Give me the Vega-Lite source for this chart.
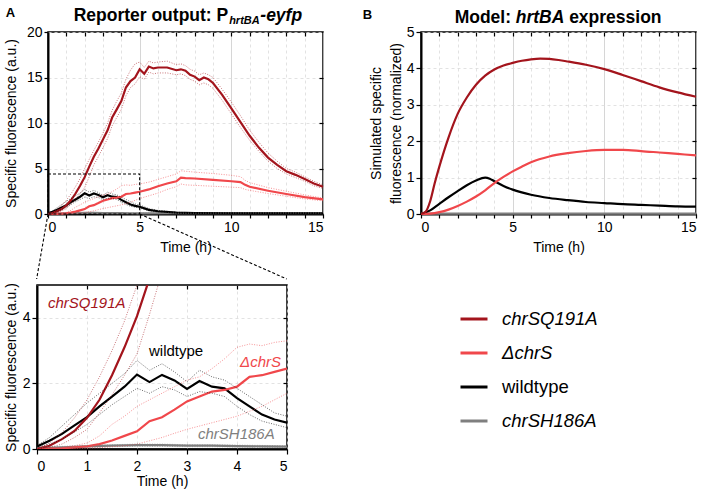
{
 "$schema": "https://vega.github.io/schema/vega-lite/v6.json",
 "background": "white",
 "padding": {"left": 2, "top": 6, "right": 5, "bottom": 5},
 "config": {
  "font": "Liberation Sans",
  "view": {"stroke": "black", "strokeWidth": 1.5},
  "axis": {"labelFont": "Liberation Sans", "labelFontSize": 14, "labelColor": "black", "titleFont": "Liberation Sans", "titleFontSize": 14, "titleFontWeight": "normal", "titleColor": "black", "tickColor": "black", "domainColor": "black", "domainWidth": 2, "tickWidth": 1.2, "gridWidth": 0.8}
 },
 "datasets": {
  "exp": [
   {"s":"chrSH186A","t":0,"v":0.03,"lo":0.01,"hi":0.05},
   {"s":"chrSH186A","t":0.5,"v":0.05,"lo":0.03,"hi":0.08},
   {"s":"chrSH186A","t":1,"v":0.08,"lo":0.05,"hi":0.11},
   {"s":"chrSH186A","t":1.5,"v":0.1,"lo":0.07,"hi":0.13},
   {"s":"chrSH186A","t":2,"v":0.12,"lo":0.08,"hi":0.15},
   {"s":"chrSH186A","t":2.5,"v":0.12,"lo":0.08,"hi":0.15},
   {"s":"chrSH186A","t":3,"v":0.1,"lo":0.07,"hi":0.13},
   {"s":"chrSH186A","t":3.5,"v":0.1,"lo":0.07,"hi":0.13},
   {"s":"chrSH186A","t":4,"v":0.09,"lo":0.06,"hi":0.12},
   {"s":"chrSH186A","t":4.5,"v":0.08,"lo":0.05,"hi":0.11},
   {"s":"chrSH186A","t":5,"v":0.07,"lo":0.05,"hi":0.1},
   {"s":"chrSH186A","t":7,"v":0.08,"lo":0.05,"hi":0.11},
   {"s":"chrSH186A","t":10,"v":0.1,"lo":0.07,"hi":0.13},
   {"s":"chrSH186A","t":12,"v":0.1,"lo":0.07,"hi":0.13},
   {"s":"chrSH186A","t":15,"v":0.1,"lo":0.07,"hi":0.13},
   {"s":"wildtype","t":0,"v":0.08,"lo":0.05,"hi":0.1},
   {"s":"wildtype","t":0.25,"v":0.25,"lo":0.15,"hi":0.35},
   {"s":"wildtype","t":0.5,"v":0.46,"lo":0.3,"hi":0.7},
   {"s":"wildtype","t":0.75,"v":0.72,"lo":0.52,"hi":1.05},
   {"s":"wildtype","t":1,"v":0.97,"lo":0.75,"hi":1.4},
   {"s":"wildtype","t":1.25,"v":1.3,"lo":1.05,"hi":1.7},
   {"s":"wildtype","t":1.5,"v":1.6,"lo":1.35,"hi":2.0},
   {"s":"wildtype","t":1.75,"v":1.9,"lo":1.6,"hi":2.3},
   {"s":"wildtype","t":2,"v":2.27,"lo":1.85,"hi":2.7},
   {"s":"wildtype","t":2.25,"v":2.04,"lo":1.7,"hi":2.4},
   {"s":"wildtype","t":2.5,"v":2.26,"lo":1.9,"hi":2.6},
   {"s":"wildtype","t":2.75,"v":2.09,"lo":1.8,"hi":2.35},
   {"s":"wildtype","t":3,"v":1.83,"lo":1.6,"hi":2.05},
   {"s":"wildtype","t":3.25,"v":2.07,"lo":1.75,"hi":2.4},
   {"s":"wildtype","t":3.5,"v":1.9,"lo":1.7,"hi":2.2},
   {"s":"wildtype","t":3.75,"v":1.85,"lo":1.6,"hi":2.1},
   {"s":"wildtype","t":4,"v":1.55,"lo":1.3,"hi":1.85},
   {"s":"wildtype","t":4.25,"v":1.3,"lo":1.05,"hi":1.6},
   {"s":"wildtype","t":4.5,"v":1.05,"lo":0.85,"hi":1.35},
   {"s":"wildtype","t":4.75,"v":0.9,"lo":0.75,"hi":1.1},
   {"s":"wildtype","t":5,"v":0.8,"lo":0.65,"hi":1.0},
   {"s":"wildtype","t":5.5,"v":0.45,"lo":0.35,"hi":0.6},
   {"s":"wildtype","t":6,"v":0.3,"lo":0.22,"hi":0.4},
   {"s":"wildtype","t":7,"v":0.15,"lo":0.1,"hi":0.2},
   {"s":"wildtype","t":8,"v":0.1,"lo":0.07,"hi":0.13},
   {"s":"wildtype","t":10,"v":0.08,"lo":0.06,"hi":0.1},
   {"s":"wildtype","t":12,"v":0.07,"lo":0.05,"hi":0.09},
   {"s":"wildtype","t":15,"v":0.06,"lo":0.05,"hi":0.08},
   {"s":"ΔchrS","t":0,"v":0,"lo":0,"hi":0},
   {"s":"ΔchrS","t":0.25,"v":0.01,"lo":0,"hi":0.02},
   {"s":"ΔchrS","t":0.5,"v":0.02,"lo":0,"hi":0.05},
   {"s":"ΔchrS","t":0.75,"v":0.05,"lo":0.01,"hi":0.1},
   {"s":"ΔchrS","t":1,"v":0.08,"lo":0.02,"hi":0.18},
   {"s":"ΔchrS","t":1.25,"v":0.15,"lo":0.04,"hi":0.4},
   {"s":"ΔchrS","t":1.5,"v":0.26,"lo":0.07,"hi":0.75},
   {"s":"ΔchrS","t":1.75,"v":0.4,"lo":0.1,"hi":1.0},
   {"s":"ΔchrS","t":2,"v":0.54,"lo":0.15,"hi":1.3},
   {"s":"ΔchrS","t":2.25,"v":0.85,"lo":0.25,"hi":1.5},
   {"s":"ΔchrS","t":2.5,"v":0.97,"lo":0.35,"hi":1.7},
   {"s":"ΔchrS","t":2.75,"v":1.2,"lo":0.48,"hi":1.9},
   {"s":"ΔchrS","t":3,"v":1.45,"lo":0.6,"hi":2.1},
   {"s":"ΔchrS","t":3.25,"v":1.6,"lo":0.7,"hi":2.2},
   {"s":"ΔchrS","t":3.5,"v":1.75,"lo":0.8,"hi":2.45},
   {"s":"ΔchrS","t":3.75,"v":1.8,"lo":0.9,"hi":2.75},
   {"s":"ΔchrS","t":4,"v":1.9,"lo":1.0,"hi":3.1},
   {"s":"ΔchrS","t":4.25,"v":2.2,"lo":1.15,"hi":3.2},
   {"s":"ΔchrS","t":4.5,"v":2.25,"lo":1.3,"hi":3.15},
   {"s":"ΔchrS","t":4.75,"v":2.35,"lo":1.5,"hi":3.25},
   {"s":"ΔchrS","t":5,"v":2.45,"lo":1.7,"hi":3.3},
   {"s":"ΔchrS","t":5.5,"v":2.7,"lo":2.0,"hi":3.5},
   {"s":"ΔchrS","t":6,"v":3.05,"lo":2.3,"hi":3.8},
   {"s":"ΔchrS","t":6.5,"v":3.35,"lo":2.7,"hi":4.1},
   {"s":"ΔchrS","t":7,"v":3.6,"lo":3.0,"hi":4.4},
   {"s":"ΔchrS","t":7.25,"v":4.0,"lo":3.3,"hi":4.75},
   {"s":"ΔchrS","t":7.5,"v":3.95,"lo":3.2,"hi":4.7},
   {"s":"ΔchrS","t":8,"v":3.9,"lo":3.15,"hi":4.6},
   {"s":"ΔchrS","t":9,"v":3.75,"lo":3.05,"hi":4.45},
   {"s":"ΔchrS","t":10,"v":3.6,"lo":2.95,"hi":4.25},
   {"s":"ΔchrS","t":10.5,"v":3.5,"lo":2.9,"hi":4.1},
   {"s":"ΔchrS","t":10.75,"v":3.2,"lo":2.7,"hi":3.7},
   {"s":"ΔchrS","t":11,"v":3.0,"lo":2.6,"hi":3.45},
   {"s":"ΔchrS","t":12,"v":2.55,"lo":2.25,"hi":2.9},
   {"s":"ΔchrS","t":13,"v":2.2,"lo":1.95,"hi":2.5},
   {"s":"ΔchrS","t":14,"v":1.85,"lo":1.65,"hi":2.1},
   {"s":"ΔchrS","t":15,"v":1.6,"lo":1.45,"hi":1.75},
   {"s":"chrSQ191A","t":0,"v":0,"lo":0,"hi":0},
   {"s":"chrSQ191A","t":0.25,"v":0.1,"lo":0.04,"hi":0.18},
   {"s":"chrSQ191A","t":0.5,"v":0.3,"lo":0.15,"hi":0.5},
   {"s":"chrSQ191A","t":0.75,"v":0.55,"lo":0.35,"hi":0.95},
   {"s":"chrSQ191A","t":1,"v":0.95,"lo":0.6,"hi":1.5},
   {"s":"chrSQ191A","t":1.25,"v":1.5,"lo":1.1,"hi":2.2},
   {"s":"chrSQ191A","t":1.5,"v":2.25,"lo":1.65,"hi":3.0},
   {"s":"chrSQ191A","t":1.75,"v":3.1,"lo":2.25,"hi":3.9},
   {"s":"chrSQ191A","t":2,"v":4.05,"lo":2.9,"hi":5.0},
   {"s":"chrSQ191A","t":2.25,"v":5.2,"lo":4.1,"hi":6.0},
   {"s":"chrSQ191A","t":2.5,"v":6.3,"lo":5.4,"hi":7.0},
   {"s":"chrSQ191A","t":2.75,"v":7.2,"lo":6.3,"hi":7.9},
   {"s":"chrSQ191A","t":3,"v":8.2,"lo":7.3,"hi":8.9},
   {"s":"chrSQ191A","t":3.25,"v":9.2,"lo":8.3,"hi":10.0},
   {"s":"chrSQ191A","t":3.5,"v":10.6,"lo":9.7,"hi":11.4},
   {"s":"chrSQ191A","t":3.75,"v":11.5,"lo":10.6,"hi":12.4},
   {"s":"chrSQ191A","t":4,"v":12.4,"lo":11.5,"hi":13.3},
   {"s":"chrSQ191A","t":4.25,"v":13.9,"lo":13.0,"hi":14.8},
   {"s":"chrSQ191A","t":4.5,"v":14.6,"lo":13.9,"hi":15.8},
   {"s":"chrSQ191A","t":4.75,"v":15.0,"lo":14.3,"hi":16.5},
   {"s":"chrSQ191A","t":5,"v":15.9,"lo":15.1,"hi":16.7},
   {"s":"chrSQ191A","t":5.25,"v":15.4,"lo":14.8,"hi":16.1},
   {"s":"chrSQ191A","t":5.5,"v":16.2,"lo":15.6,"hi":16.8},
   {"s":"chrSQ191A","t":5.75,"v":16.0,"lo":15.4,"hi":16.6},
   {"s":"chrSQ191A","t":6,"v":16.1,"lo":15.5,"hi":16.7},
   {"s":"chrSQ191A","t":6.5,"v":16.1,"lo":15.5,"hi":16.8},
   {"s":"chrSQ191A","t":7,"v":15.8,"lo":15.3,"hi":16.4},
   {"s":"chrSQ191A","t":7.25,"v":15.9,"lo":15.4,"hi":16.5},
   {"s":"chrSQ191A","t":7.5,"v":15.75,"lo":15.2,"hi":16.3},
   {"s":"chrSQ191A","t":7.75,"v":15.3,"lo":14.8,"hi":15.9},
   {"s":"chrSQ191A","t":8,"v":15.1,"lo":14.6,"hi":15.7},
   {"s":"chrSQ191A","t":8.25,"v":14.7,"lo":14.2,"hi":15.3},
   {"s":"chrSQ191A","t":8.5,"v":15.0,"lo":14.4,"hi":15.5},
   {"s":"chrSQ191A","t":8.75,"v":14.8,"lo":14.2,"hi":15.3},
   {"s":"chrSQ191A","t":9,"v":14.4,"lo":13.8,"hi":15.0},
   {"s":"chrSQ191A","t":9.5,"v":13.1,"lo":12.5,"hi":13.7},
   {"s":"chrSQ191A","t":10,"v":11.6,"lo":11.0,"hi":12.3},
   {"s":"chrSQ191A","t":10.5,"v":10.1,"lo":9.5,"hi":10.8},
   {"s":"chrSQ191A","t":11,"v":8.6,"lo":8.1,"hi":9.2},
   {"s":"chrSQ191A","t":11.5,"v":7.3,"lo":6.9,"hi":7.9},
   {"s":"chrSQ191A","t":12,"v":6.2,"lo":5.8,"hi":6.7},
   {"s":"chrSQ191A","t":12.5,"v":5.4,"lo":5.0,"hi":5.8},
   {"s":"chrSQ191A","t":13,"v":4.7,"lo":4.4,"hi":5.0},
   {"s":"chrSQ191A","t":13.5,"v":4.3,"lo":4.0,"hi":4.6},
   {"s":"chrSQ191A","t":14,"v":3.85,"lo":3.6,"hi":4.1},
   {"s":"chrSQ191A","t":14.5,"v":3.35,"lo":3.1,"hi":3.6},
   {"s":"chrSQ191A","t":15,"v":3.0,"lo":2.8,"hi":3.2}
  ],
  "model": [
   {"s":"chrSH186A","t":0,"v":0.01},{"s":"chrSH186A","t":15,"v":0.01},
   {"s":"wildtype","t":0,"v":0},{"s":"wildtype","t":0.5,"v":0.1},{"s":"wildtype","t":1,"v":0.28},{"s":"wildtype","t":1.5,"v":0.46},{"s":"wildtype","t":2,"v":0.63},{"s":"wildtype","t":2.5,"v":0.79},{"s":"wildtype","t":3,"v":0.92},{"s":"wildtype","t":3.5,"v":1.0},{"s":"wildtype","t":3.75,"v":0.97},{"s":"wildtype","t":4,"v":0.9},{"s":"wildtype","t":4.5,"v":0.77},{"s":"wildtype","t":5,"v":0.67},{"s":"wildtype","t":6,"v":0.53},{"s":"wildtype","t":7,"v":0.44},{"s":"wildtype","t":8,"v":0.38},{"s":"wildtype","t":9,"v":0.33},{"s":"wildtype","t":10,"v":0.3},{"s":"wildtype","t":11,"v":0.27},{"s":"wildtype","t":12,"v":0.25},{"s":"wildtype","t":13,"v":0.23},{"s":"wildtype","t":14,"v":0.21},{"s":"wildtype","t":15,"v":0.2},
   {"s":"ΔchrS","t":0,"v":0},{"s":"ΔchrS","t":0.5,"v":0.01},{"s":"ΔchrS","t":1,"v":0.05},{"s":"ΔchrS","t":1.5,"v":0.12},{"s":"ΔchrS","t":2,"v":0.22},{"s":"ΔchrS","t":2.5,"v":0.34},{"s":"ΔchrS","t":3,"v":0.48},{"s":"ΔchrS","t":3.5,"v":0.65},{"s":"ΔchrS","t":4,"v":0.85},{"s":"ΔchrS","t":4.5,"v":1.02},{"s":"ΔchrS","t":5,"v":1.17},{"s":"ΔchrS","t":5.5,"v":1.3},{"s":"ΔchrS","t":6,"v":1.42},{"s":"ΔchrS","t":7,"v":1.58},{"s":"ΔchrS","t":8,"v":1.67},{"s":"ΔchrS","t":9,"v":1.73},{"s":"ΔchrS","t":10,"v":1.76},{"s":"ΔchrS","t":11,"v":1.76},{"s":"ΔchrS","t":12,"v":1.73},{"s":"ΔchrS","t":13,"v":1.69},{"s":"ΔchrS","t":14,"v":1.65},{"s":"ΔchrS","t":15,"v":1.61},
   {"s":"chrSQ191A","t":0,"v":0},{"s":"chrSQ191A","t":0.25,"v":0.06},{"s":"chrSQ191A","t":0.5,"v":0.35},{"s":"chrSQ191A","t":0.75,"v":0.85},{"s":"chrSQ191A","t":1,"v":1.3},{"s":"chrSQ191A","t":1.5,"v":2.1},{"s":"chrSQ191A","t":2,"v":2.75},{"s":"chrSQ191A","t":2.5,"v":3.2},{"s":"chrSQ191A","t":3,"v":3.55},{"s":"chrSQ191A","t":3.5,"v":3.8},{"s":"chrSQ191A","t":4,"v":3.97},{"s":"chrSQ191A","t":4.5,"v":4.08},{"s":"chrSQ191A","t":5,"v":4.15},{"s":"chrSQ191A","t":5.5,"v":4.21},{"s":"chrSQ191A","t":6,"v":4.25},{"s":"chrSQ191A","t":6.5,"v":4.27},{"s":"chrSQ191A","t":7,"v":4.26},{"s":"chrSQ191A","t":7.5,"v":4.23},{"s":"chrSQ191A","t":8,"v":4.19},{"s":"chrSQ191A","t":9,"v":4.1},{"s":"chrSQ191A","t":10,"v":3.98},{"s":"chrSQ191A","t":11,"v":3.82},{"s":"chrSQ191A","t":12,"v":3.65},{"s":"chrSQ191A","t":13,"v":3.48},{"s":"chrSQ191A","t":14,"v":3.34},{"s":"chrSQ191A","t":15,"v":3.22}
  ]
 },
 "spacing": 0,
 "vconcat": [
  {
   "spacing": 32,
   "hconcat": [
    {
     "spacing": 0,
     "hconcat": [
      {"width": 1, "height": 1, "view": {"stroke": null}, "data": {"values": [{}]}, "mark": {"type": "point", "opacity": 0, "size": 0}, "encoding": {}},
      {
       "width": 275, "height": 182,
       "data": {"name": "exp"},
       "resolve": {"axis": {"x": "independent", "y": "independent"}},
       "layer": [
        {"mark": {"type": "line", "strokeWidth": 2.2},
         "encoding": {
          "x": {"field": "t", "type": "quantitative", "scale": {"domain": [0, 15], "nice": false},
                "axis": {"orient": "bottom", "values": [0,1,2,3,4,5,6,7,8,9,10,11,12,13,14,15], "labelExpr": "datum.value % 5 === 0 ? datum.label : ''", "labelOverlap": false, "title": "Time (h)", "titleFontWeight": "normal", "grid": true, "gridDash": {"condition": {"test": "datum.value % 5 === 0", "value": []}, "value": [3,3]}, "gridColor": {"condition": {"test": "datum.value % 5 === 0", "value": "#cccccc"}, "value": "#dadada"}, "tickSize": 4, "labelPadding": 2, "titlePadding": 6}},
          "y": {"field": "v", "type": "quantitative", "scale": {"domain": [0, 20], "nice": false},
                "axis": {"orient": "left", "values": [0,5,10,15,20], "title": "Specific fluorescence (a.u.)", "titleFontWeight": "normal", "grid": true, "gridDash": [3,3], "gridColor": "#dadada", "tickSize": 4, "labelPadding": 2, "titlePadding": 8}},
          "color": {"field": "s", "type": "nominal",
                    "scale": {"domain": ["chrSQ191A","ΔchrS","wildtype","chrSH186A"], "range": ["#a3141c","#f0474b","#000000","#7f7f7f"]},
                    "legend": {"orient": "none", "legendX": 457, "legendY": 272, "title": null, "symbolType": "stroke", "symbolSize": 729, "symbolStrokeWidth": 3, "labelFontSize": 18.5, "labelOffset": 13, "rowPadding": 9, "padding": 0, "labelFont": "Liberation Sans", "labelColor": "black", "encode": {"labels": {"update": {"fontStyle": {"signal": "datum.label === 'wildtype' ? 'normal' : 'italic'"}}}}}}
         }},
        {"mark": {"type": "line", "strokeWidth": 0.9, "strokeDash": [1,1.5], "opacity": 0.65},
         "encoding": {
          "x": {"field": "t", "type": "quantitative", "scale": {"domain": [0, 15], "nice": false}, "axis": null},
          "y": {"field": "lo", "type": "quantitative", "scale": {"domain": [0, 20], "nice": false}, "axis": null},
          "color": {"field": "s", "type": "nominal", "legend": null}
         }},
        {"mark": {"type": "line", "strokeWidth": 0.9, "strokeDash": [1,1.5], "opacity": 0.65},
         "encoding": {
          "x": {"field": "t", "type": "quantitative", "scale": {"domain": [0, 15], "nice": false}, "axis": null},
          "y": {"field": "hi", "type": "quantitative", "scale": {"domain": [0, 20], "nice": false}, "axis": null},
          "color": {"field": "s", "type": "nominal", "legend": null}
         }},
        {"data": {"values": [{}]}, "mark": {"type": "point", "opacity": 0, "size": 0},
         "encoding": {
          "x": {"datum": 0, "type": "quantitative", "scale": {"domain": [0, 15], "nice": false}, "axis": {"orient": "top", "values": [1,2,3,4,5,6,7,8,9,10,11,12,13,14], "labels": false, "title": null, "grid": false, "domain": false, "tickSize": -4, "minExtent": 0, "maxExtent": 0}},
          "y": {"datum": 0, "type": "quantitative", "scale": {"domain": [0, 20], "nice": false}, "axis": {"orient": "right", "values": [5,10,15], "labels": false, "title": null, "grid": false, "domain": false, "tickSize": -4, "minExtent": 0, "maxExtent": 0}}
         }},
        {"data": {"values": [{}]}, "mark": {"type": "rect", "fillOpacity": 0, "stroke": "black", "strokeWidth": 1.1, "strokeDash": [3,2]},
         "encoding": {
          "x": {"datum": 0, "type": "quantitative", "axis": null}, "x2": {"datum": 5},
          "y": {"datum": 0, "type": "quantitative", "axis": null}, "y2": {"datum": 4.4}
         }},
        {"data": {"values": [{}]}, "mark": {"type": "rule", "stroke": "black", "strokeWidth": 1.1, "strokeDash": [3,2]},
         "encoding": {
          "x": {"datum": 0, "type": "quantitative", "axis": null}, "x2": {"datum": -0.62},
          "y": {"datum": 0, "type": "quantitative", "axis": null}, "y2": {"datum": -7.14}
         }},
        {"data": {"values": [{}]}, "mark": {"type": "rule", "stroke": "black", "strokeWidth": 1.1, "strokeDash": [3,2]},
         "encoding": {
          "x": {"datum": 5, "type": "quantitative", "axis": null}, "x2": {"datum": 13.02},
          "y": {"datum": 0, "type": "quantitative", "axis": null}, "y2": {"datum": -7.14}
         }},
        {"data": {"values": [{}]}, "mark": {"type": "text", "text": "A", "align": "left", "baseline": "alphabetic", "fontSize": 13, "fontWeight": "bold"},
         "encoding": {"x": {"datum": -2.31, "type": "quantitative", "axis": null}, "y": {"datum": 21.63, "type": "quantitative", "axis": null}}},
        {"data": {"values": [{}]}, "mark": {"type": "text", "text": "Reporter output: P", "align": "right", "baseline": "alphabetic", "fontSize": 17.5, "fontWeight": "bold"},
         "encoding": {"x": {"datum": 9.83, "type": "quantitative", "axis": null}, "y": {"datum": 21.19, "type": "quantitative", "axis": null}}},
        {"data": {"values": [{}]}, "mark": {"type": "text", "text": "hrtBA", "align": "left", "baseline": "alphabetic", "fontSize": 11, "fontWeight": "bold", "fontStyle": "italic"},
         "encoding": {"x": {"datum": 9.88, "type": "quantitative", "axis": null}, "y": {"datum": 20.84, "type": "quantitative", "axis": null}}},
        {"data": {"values": [{}]}, "mark": {"type": "text", "text": "-eyfp", "align": "left", "baseline": "alphabetic", "fontSize": 17.5, "fontWeight": "bold", "fontStyle": "italic"},
         "encoding": {"x": {"datum": 11.58, "type": "quantitative", "axis": null}, "y": {"datum": 21.19, "type": "quantitative", "axis": null}}}
       ]
      }
     ]
    },
    {
     "width": 275, "height": 182,
     "data": {"name": "model"},
     "resolve": {"axis": {"x": "independent", "y": "independent"}},
     "layer": [
      {"mark": {"type": "line", "strokeWidth": 2.2, "interpolate": "monotone"},
       "encoding": {
        "x": {"field": "t", "type": "quantitative", "scale": {"domain": [0, 15], "nice": false},
              "axis": {"orient": "bottom", "values": [0,1,2,3,4,5,6,7,8,9,10,11,12,13,14,15], "labelExpr": "datum.value % 5 === 0 ? datum.label : ''", "labelOverlap": false, "title": "Time (h)", "titleFontWeight": "normal", "grid": true, "gridDash": {"condition": {"test": "datum.value % 5 === 0", "value": []}, "value": [3,3]}, "gridColor": {"condition": {"test": "datum.value % 5 === 0", "value": "#cccccc"}, "value": "#dadada"}, "tickSize": 4, "labelPadding": 2, "titlePadding": 6}},
        "y": {"field": "v", "type": "quantitative", "scale": {"domain": [0, 5], "nice": false},
              "axis": {"orient": "left", "values": [0,1,2,3,4,5], "title": ["Simulated specific", "fluorescence (normalized)"], "titleFontWeight": "normal", "titleLineHeight": 20, "grid": true, "gridDash": [3,3], "gridColor": "#dadada", "tickSize": 5, "labelPadding": 2, "titlePadding": 3}},
        "color": {"field": "s", "type": "nominal",
                  "scale": {"domain": ["chrSQ191A","ΔchrS","wildtype","chrSH186A"], "range": ["#a3141c","#f0474b","#000000","#7f7f7f"]},
                  "legend": {"orient": "none", "legendX": 457, "legendY": 272, "title": null, "symbolType": "stroke", "symbolSize": 729, "symbolStrokeWidth": 3, "labelFontSize": 18.5, "labelOffset": 13, "rowPadding": 9, "padding": 0, "labelFont": "Liberation Sans", "labelColor": "black", "encode": {"labels": {"update": {"fontStyle": {"signal": "datum.label === 'wildtype' ? 'normal' : 'italic'"}}}}}}
       }},
      {"data": {"values": [{}]}, "mark": {"type": "point", "opacity": 0, "size": 0},
       "encoding": {
        "x": {"datum": 0, "type": "quantitative", "scale": {"domain": [0, 15], "nice": false}, "axis": {"orient": "top", "values": [1,2,3,4,5,6,7,8,9,10,11,12,13,14], "labels": false, "title": null, "grid": false, "domain": false, "tickSize": -4, "minExtent": 0, "maxExtent": 0}},
        "y": {"datum": 0, "type": "quantitative", "scale": {"domain": [0, 5], "nice": false}, "axis": {"orient": "right", "values": [1,2,3,4], "labels": false, "title": null, "grid": false, "domain": false, "tickSize": -4, "minExtent": 0, "maxExtent": 0}}
       }},
      {"data": {"values": [{}]}, "mark": {"type": "text", "text": "B", "align": "left", "baseline": "alphabetic", "fontSize": 13, "fontWeight": "bold"},
       "encoding": {"x": {"datum": -3.18, "type": "quantitative", "axis": null}, "y": {"datum": 5.37, "type": "quantitative", "axis": null}}},
      {"data": {"values": [{}]}, "mark": {"type": "text", "text": "Model:", "align": "right", "baseline": "alphabetic", "fontSize": 17.5, "fontWeight": "bold"},
       "encoding": {"x": {"datum": 4.91, "type": "quantitative", "axis": null}, "y": {"datum": 5.25, "type": "quantitative", "axis": null}}},
      {"data": {"values": [{}]}, "mark": {"type": "text", "text": "hrtBA", "align": "left", "baseline": "alphabetic", "fontSize": 17.5, "fontWeight": "bold", "fontStyle": "italic"},
       "encoding": {"x": {"datum": 5.17, "type": "quantitative", "axis": null}, "y": {"datum": 5.25, "type": "quantitative", "axis": null}}},
      {"data": {"values": [{}]}, "mark": {"type": "text", "text": "expression", "align": "left", "baseline": "alphabetic", "fontSize": 17.5, "fontWeight": "bold"},
       "encoding": {"x": {"datum": 8.08, "type": "quantitative", "axis": null}, "y": {"datum": 5.25, "type": "quantitative", "axis": null}}}
     ]
    }
   ]
  },
  {
   "spacing": 0,
   "hconcat": [
    {"width": 1, "height": 1, "view": {"stroke": null}, "data": {"values": [{}]}, "mark": {"type": "point", "opacity": 0, "size": 0}, "encoding": {}},
    {
     "width": 250, "height": 164,
     "data": {"name": "exp"},
     "resolve": {"axis": {"x": "independent", "y": "independent"}},
     "layer": [
      {"mark": {"type": "line", "strokeWidth": 2.2, "clip": true},
       "encoding": {
        "x": {"field": "t", "type": "quantitative", "scale": {"domain": [0, 5], "nice": false},
              "axis": {"orient": "bottom", "values": [0,1,2,3,4,5], "title": "Time (h)", "titleFontWeight": "normal", "grid": true, "gridDash": [3,3], "gridColor": "#dadada", "tickSize": 5, "labelPadding": 5, "titlePadding": 1}},
        "y": {"field": "v", "type": "quantitative", "scale": {"domain": [0, 5], "nice": false},
              "axis": {"orient": "left", "values": [0,2,4], "title": "Specific fluorescence (a.u.)", "titleFontWeight": "normal", "grid": true, "gridDash": [3,3], "gridColor": "#dadada", "tickSize": 5, "labelPadding": 2, "titlePadding": 4}},
        "color": {"field": "s", "type": "nominal",
                  "scale": {"domain": ["chrSQ191A","ΔchrS","wildtype","chrSH186A"], "range": ["#a3141c","#f0474b","#000000","#7f7f7f"]},
                  "legend": {"orient": "none", "legendX": 457, "legendY": 272, "title": null, "symbolType": "stroke", "symbolSize": 729, "symbolStrokeWidth": 3, "labelFontSize": 18.5, "labelOffset": 13, "rowPadding": 9, "padding": 0, "labelFont": "Liberation Sans", "labelColor": "black", "encode": {"labels": {"update": {"fontStyle": {"signal": "datum.label === 'wildtype' ? 'normal' : 'italic'"}}}}}}
       }},
      {"mark": {"type": "line", "strokeWidth": 0.9, "strokeDash": [1,1.5], "opacity": 0.65, "clip": true},
       "encoding": {
        "x": {"field": "t", "type": "quantitative", "scale": {"domain": [0, 5], "nice": false}, "axis": null},
        "y": {"field": "lo", "type": "quantitative", "scale": {"domain": [0, 5], "nice": false}, "axis": null},
        "color": {"field": "s", "type": "nominal", "legend": null}
       }},
      {"mark": {"type": "line", "strokeWidth": 0.9, "strokeDash": [1,1.5], "opacity": 0.65, "clip": true},
       "encoding": {
        "x": {"field": "t", "type": "quantitative", "scale": {"domain": [0, 5], "nice": false}, "axis": null},
        "y": {"field": "hi", "type": "quantitative", "scale": {"domain": [0, 5], "nice": false}, "axis": null},
        "color": {"field": "s", "type": "nominal", "legend": null}
       }},
      {"data": {"values": [{}]}, "mark": {"type": "point", "opacity": 0, "size": 0},
       "encoding": {
        "x": {"datum": 0, "type": "quantitative", "scale": {"domain": [0, 5], "nice": false}, "axis": {"orient": "top", "values": [1,2,3,4], "labels": false, "title": null, "grid": false, "domain": false, "tickSize": -4, "minExtent": 0, "maxExtent": 0}},
        "y": {"datum": 0, "type": "quantitative", "scale": {"domain": [0, 5], "nice": false}, "axis": {"orient": "right", "values": [2,4], "labels": false, "title": null, "grid": false, "domain": false, "tickSize": -4, "minExtent": 0, "maxExtent": 0}}
       }},
      {"data": {"values": [{}]}, "mark": {"type": "text", "text": "chrSQ191A", "align": "left", "baseline": "alphabetic", "fontSize": 15, "fontStyle": "italic", "color": "#a3141c"},
       "encoding": {"x": {"datum": 0.22, "type": "quantitative", "axis": null}, "y": {"datum": 4.3, "type": "quantitative", "axis": null}}},
      {"data": {"values": [{}]}, "mark": {"type": "text", "text": "wildtype", "align": "left", "baseline": "alphabetic", "fontSize": 15, "color": "black"},
       "encoding": {"x": {"datum": 2.24, "type": "quantitative", "axis": null}, "y": {"datum": 2.84, "type": "quantitative", "axis": null}}},
      {"data": {"values": [{}]}, "mark": {"type": "text", "text": "ΔchrS", "align": "right", "baseline": "alphabetic", "fontSize": 15, "fontStyle": "italic", "color": "#f0474b"},
       "encoding": {"x": {"datum": 4.88, "type": "quantitative", "axis": null}, "y": {"datum": 2.49, "type": "quantitative", "axis": null}}},
      {"data": {"values": [{}]}, "mark": {"type": "text", "text": "chrSH186A", "align": "left", "baseline": "alphabetic", "fontSize": 15, "fontStyle": "italic", "color": "#7f7f7f"},
       "encoding": {"x": {"datum": 3.22, "type": "quantitative", "axis": null}, "y": {"datum": 0.29, "type": "quantitative", "axis": null}}}
     ]
    }
   ]
  }
 ]
}
